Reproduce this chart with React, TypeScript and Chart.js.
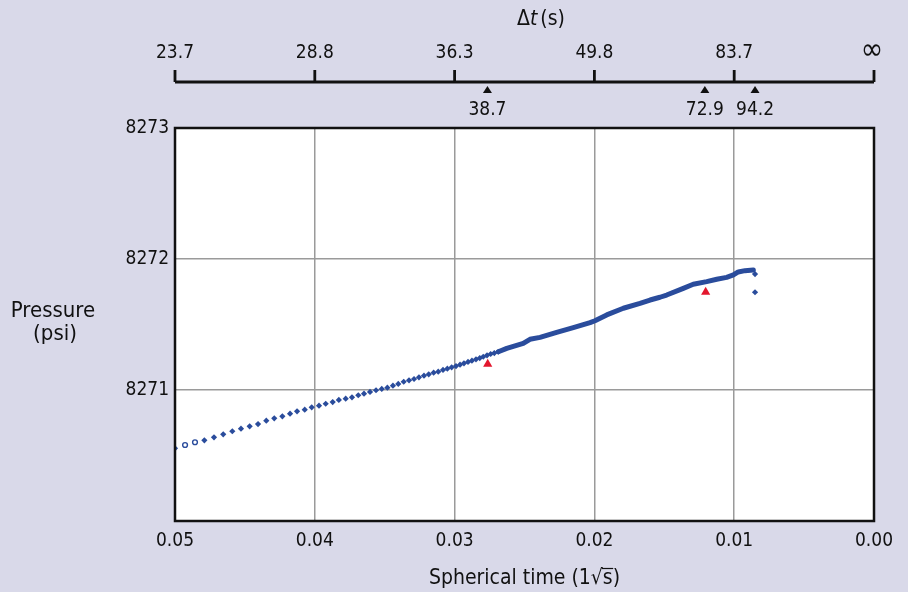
import React, { useEffect, useRef } from 'react';
import { Chart, registerables } from 'chart.js';

Chart.register(...registerables);

const FONT = "'Liberation Sans Narrow', 'DejaVu Sans Condensed', Roboto, sans-serif";
const BG = '#D9D9E9';
const BLUE = '#2A4C9C';
const RED = '#E3162D';
const INK = '#111111';
const GRID = '#9A9A9A';

// Bottom axis (spherical time) ticks and the matching top-axis Δt labels
const xTicks = [0.05, 0.04, 0.03, 0.02, 0.01, 0.0];
const dtLabels = ['23.7', '28.8', '36.3', '49.8', '83.7', '∞'];
const yTicks = [8270, 8271, 8272, 8273];

// Marked Δt values on the top axis
const markerT = [0.02765, 0.0121, 0.00851];
const markerLabels = ['38.7', '72.9', '94.2'];

// Sparse early-time points (solid)
const solidT = [0.05, 0.0479, 0.04721, 0.04655, 0.0459, 0.04528, 0.04466, 0.04406, 0.04347, 0.0429, 0.04232, 0.04177, 0.04127, 0.04072, 0.04022, 0.0397, 0.03922, 0.03872, 0.03828, 0.03779, 0.03734, 0.03689, 0.03648, 0.03605, 0.03562, 0.03521, 0.03481, 0.03441, 0.03403, 0.03364, 0.03326, 0.0329, 0.03255, 0.03219, 0.03185, 0.0315, 0.03117, 0.03083, 0.03052, 0.03021, 0.0299, 0.02961, 0.02933, 0.02904, 0.02876, 0.02847, 0.0282, 0.02795, 0.02768, 0.02742, 0.02716, 0.02687];
const solidP = [8270.555, 8270.616, 8270.639, 8270.662, 8270.685, 8270.705, 8270.723, 8270.74, 8270.766, 8270.784, 8270.799, 8270.819, 8270.837, 8270.85, 8270.868, 8270.88, 8270.895, 8270.908, 8270.924, 8270.934, 8270.944, 8270.96, 8270.972, 8270.985, 8270.998, 8271.008, 8271.018, 8271.033, 8271.046, 8271.063, 8271.074, 8271.084, 8271.097, 8271.109, 8271.12, 8271.132, 8271.14, 8271.153, 8271.163, 8271.173, 8271.183, 8271.193, 8271.204, 8271.214, 8271.224, 8271.234, 8271.244, 8271.254, 8271.265, 8271.275, 8271.282, 8271.292];

// Hollow (excluded) early points
const hollowT = [0.04928, 0.04857];
const hollowP = [8270.58, 8270.601];

// Dense late-time data
const denseT = [0.02687, 0.02627, 0.02509, 0.02461, 0.02389, 0.0227, 0.02151, 0.02031, 0.01996, 0.01912, 0.01793, 0.01674, 0.01602, 0.01531, 0.01483, 0.01364, 0.01293, 0.01197, 0.01125, 0.01054, 0.01006, 0.00971, 0.00923, 0.00863];
const denseP = [8271.292, 8271.318, 8271.356, 8271.387, 8271.402, 8271.44, 8271.476, 8271.514, 8271.529, 8271.573, 8271.624, 8271.662, 8271.687, 8271.708, 8271.725, 8271.776, 8271.807, 8271.827, 8271.845, 8271.86, 8271.878, 8271.901, 8271.911, 8271.916];

// Final drop-off points
const endT = [0.00851, 0.00851];
const endP = [8271.885, 8271.746];

// Red triangle markers
const triT = [0.02763, 0.01204];
const triP = [8271.198, 8271.747];

const pts = (xs: number[], ys: number[]) => xs.map((x, i) => ({ x, y: ys[i] }));

export default function App() {
  const ref = useRef<HTMLCanvasElement>(null);

  useEffect(() => {
    const canvas = ref.current;
    if (!canvas) return;

    const deco = {
      id: 'deco',
      beforeDraw(chart: any) {
        const { ctx, chartArea: a } = chart;
        ctx.save();
        ctx.fillStyle = '#FFFFFF';
        ctx.fillRect(a.left, a.top, a.right - a.left, a.bottom - a.top);
        ctx.restore();
      },
      afterDraw(chart: any) {
        const { ctx, chartArea: a } = chart;
        const x = chart.scales.x;
        ctx.save();
        // plot frame
        ctx.strokeStyle = INK;
        ctx.lineWidth = 2.5;
        ctx.strokeRect(a.left, a.top, a.right - a.left, a.bottom - a.top);

        // top Δt axis
        const axisY = 82;
        const x0 = x.getPixelForValue(xTicks[0]);
        const x1 = x.getPixelForValue(xTicks[xTicks.length - 1]);
        ctx.lineWidth = 2.8;
        ctx.beginPath();
        ctx.moveTo(x0, axisY);
        ctx.lineTo(x1, axisY);
        xTicks.forEach((v) => {
          const px = x.getPixelForValue(v);
          ctx.moveTo(px, 70);
          ctx.lineTo(px, axisY);
        });
        ctx.stroke();

        ctx.fillStyle = INK;
        ctx.textAlign = 'center';
        ctx.textBaseline = 'middle';
        xTicks.forEach((v, i) => {
          const px = x.getPixelForValue(v);
          const lab = dtLabels[i];
          if (lab === '∞') {
            ctx.font = `30px ${FONT}`;
            ctx.fillText(lab, px - 2, 51);
          } else {
            ctx.font = `19px ${FONT}`;
            ctx.fillText(lab, px, 53);
          }
        });

        markerT.forEach((v, i) => {
          const px = x.getPixelForValue(v);
          ctx.beginPath();
          ctx.moveTo(px, 86);
          ctx.lineTo(px - 4.5, 93);
          ctx.lineTo(px + 4.5, 93);
          ctx.closePath();
          ctx.fill();
          ctx.font = `19px ${FONT}`;
          ctx.fillText(markerLabels[i], px, 110);
        });

        // Δt (s) title
        ctx.textAlign = 'left';
        const up = `21px ${FONT}`;
        const it = `italic 21px ${FONT}`;
        ctx.font = up;
        const wD = ctx.measureText('Δ').width;
        const wS = ctx.measureText('(s)').width;
        ctx.font = it;
        const wT = ctx.measureText('t').width;
        const gap = 3;
        const total = wD + wT + gap + wS;
        let sx = 541 - total / 2;
        ctx.font = up;
        ctx.fillText('Δ', sx, 20);
        sx += wD;
        ctx.font = it;
        ctx.fillText('t', sx, 20);
        sx += wT + gap;
        ctx.font = up;
        ctx.fillText('(s)', sx, 20);

        // y title (horizontal)
        ctx.textAlign = 'center';
        ctx.font = `22px ${FONT}`;
        ctx.fillText('Pressure', 53, 311);
        ctx.fillText('(psi)', 55, 334);

        // overline for the square root in the x title
        const title = x.options.title;
        ctx.font = `${title.font.size}px ${FONT}`;
        const full = title.text as string;
        const fw = ctx.measureText(full).width;
        const cx = (a.left + a.right) / 2;
        const startX = cx - fw / 2 + ctx.measureText(full.slice(0, full.indexOf('√') + 1)).width;
        const sW = ctx.measureText('s').width;
        ctx.lineWidth = 1.2;
        ctx.beginPath();
        ctx.moveTo(startX - 1, 568.5);
        ctx.lineTo(startX + sW + 0.5, 568.5);
        ctx.stroke();
        ctx.restore();
      },
    };

    const chart = new Chart(canvas, {
      type: 'scatter',
      data: {
        datasets: [
          {
            label: 'dense',
            data: pts(denseT, denseP),
            showLine: true,
            borderColor: BLUE,
            borderWidth: 5,
            borderCapStyle: 'round',
            borderJoinStyle: 'round',
            pointRadius: 0,
            tension: 0,
          },
          {
            label: 'solid',
            data: pts(solidT, solidP),
            pointStyle: 'rectRot',
            pointRadius: 3.1,
            backgroundColor: BLUE,
            borderWidth: 0,
          },
          {
            label: 'hollow',
            data: pts(hollowT, hollowP),
            pointStyle: 'circle',
            pointRadius: 2.4,
            backgroundColor: '#FFFFFF',
            borderColor: BLUE,
            borderWidth: 1.4,
          },
          {
            label: 'end',
            data: pts(endT, endP),
            pointStyle: 'rectRot',
            pointRadius: 3.1,
            backgroundColor: BLUE,
            borderWidth: 0,
          },
          {
            label: 'markers',
            data: pts(triT, triP),
            pointStyle: 'triangle',
            pointRadius: 5.3,
            backgroundColor: RED,
            borderWidth: 0,
          },
        ],
      } as any,
      options: {
        responsive: false,
        animation: false,
        devicePixelRatio: 1,
        layout: { padding: { top: 128, right: 34, left: 0, bottom: 0 } },
        plugins: { legend: { display: false }, tooltip: { enabled: false } },
        scales: {
          x: {
            type: 'linear',
            min: 0,
            max: 0.05,
            reverse: true,
            afterBuildTicks: (s: any) => {
              s.ticks = xTicks.map((v) => ({ value: v }));
            },
            afterFit: (s: any) => {
              s.height = 71;
            },
            border: { display: false },
            grid: { color: GRID, lineWidth: 1.5, drawTicks: false },
            ticks: {
              color: INK,
              font: { family: FONT, size: 19 },
              padding: 9,
              maxRotation: 0,
              autoSkip: false,
              callback: (v: any) => Number(v).toFixed(2),
            },
            title: {
              display: true,
              text: 'Spherical time (1√s)',
              color: INK,
              font: { family: FONT, size: 21 },
              padding: { top: 0, bottom: 1 },
            },
          },
          y: {
            type: 'linear',
            min: 8270,
            max: 8273,
            afterBuildTicks: (s: any) => {
              s.ticks = yTicks.map((v) => ({ value: v }));
            },
            afterFit: (s: any) => {
              s.width = 175;
            },
            border: { display: false },
            grid: { color: GRID, lineWidth: 1.5, drawTicks: false },
            ticks: {
              color: INK,
              font: { family: FONT, size: 19 },
              padding: 6,
              callback: (v: any) => (Number(v) === 8270 ? '' : String(v)),
            },
          },
        },
      } as any,
      plugins: [deco],
    });

    return () => chart.destroy();
  }, []);

  return (
    <div style={{ position: 'fixed', left: 0, top: 0, width: 908, height: 592, background: BG }}>
      <canvas ref={ref} width={908} height={592} style={{ display: 'block', width: 908, height: 592 }} />
    </div>
  );
}
